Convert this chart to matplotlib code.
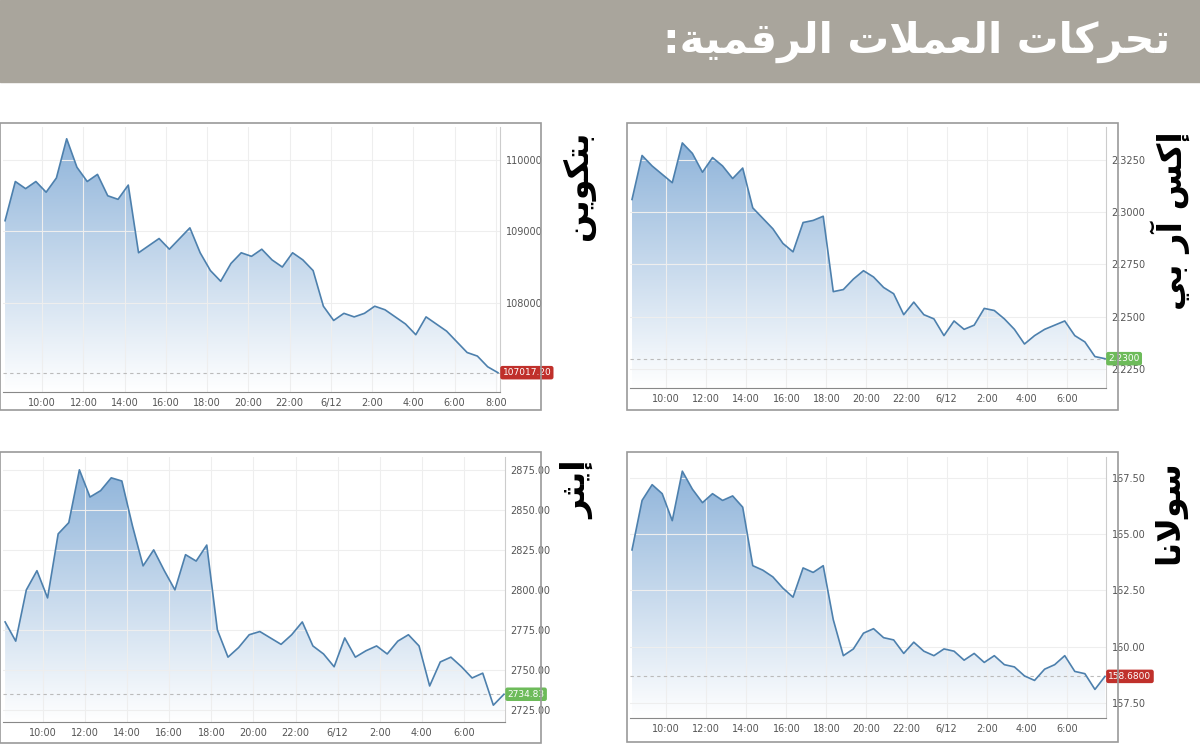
import numpy as np
import matplotlib.pyplot as plt
from matplotlib.patches import Rectangle
from matplotlib.colors import LinearSegmentedColormap

# Arabic text pre-shaped (presentation forms, visual order)
title = ":" + "\ufe94\ufef4\ufee4\ufed7\ufeae\ufedf\ufe8d" + " " + "\ufe95\ufefc\ufee4\ufecc\ufedf\ufe8d" + " " + "\ufe95\ufe8e\ufedb\ufeae\ufea4\ufe97"
name_btc = "\ufee6\ufef3\ufeee\ufedc\ufe98\ufe91"
name_xrp = "\ufef2\ufe91" + " " + "\ufeadآ" + " " + "\ufeb2\ufedb\ufe87"
name_eth = "\ufeae\ufe9c\ufef3\ufe87"
name_sol = "\ufe8e\ufee7\ufefb\ufeee\ufeb3"

tick_pos = [10, 12, 14, 16, 18, 20, 22, 24, 26, 28, 30, 32]
tick_lab = ['10:00', '12:00', '14:00', '16:00', '18:00', '20:00', '22:00', '6/12', '2:00', '4:00', '6:00', '8:00']

btc = [109150, 109700, 109600, 109700, 109550, 109750, 110300, 109900, 109700, 109800, 109500, 109450,
       109650, 108700, 108800, 108900, 108750, 108900, 109050, 108700, 108450, 108300, 108550, 108700,
       108650, 108750, 108600, 108500, 108700, 108600, 108450, 107950, 107750, 107850, 107800, 107850,
       107950, 107900, 107800, 107700, 107550, 107800, 107700, 107600, 107450, 107300, 107250, 107100, 107017.2]
xrp = [2.306, 2.327, 2.322, 2.318, 2.314, 2.333, 2.328, 2.319, 2.326, 2.322, 2.316, 2.321,
       2.302, 2.297, 2.292, 2.285, 2.281, 2.295, 2.296, 2.298, 2.262, 2.263, 2.268, 2.272,
       2.269, 2.264, 2.261, 2.251, 2.257, 2.251, 2.249, 2.241, 2.248, 2.244, 2.246, 2.254,
       2.253, 2.249, 2.244, 2.237, 2.241, 2.244, 2.246, 2.248, 2.241, 2.238, 2.231, 2.230]
eth = [2780, 2768, 2800, 2812, 2795, 2835, 2842, 2875, 2858, 2862, 2870, 2868,
       2840, 2815, 2825, 2812, 2800, 2822, 2818, 2828, 2775, 2758, 2764, 2772,
       2774, 2770, 2766, 2772, 2780, 2765, 2760, 2752, 2770, 2758, 2762, 2765,
       2760, 2768, 2772, 2765, 2740, 2755, 2758, 2752, 2745, 2748, 2728, 2734.83]
sol = [164.3, 166.5, 167.2, 166.8, 165.6, 167.8, 167.0, 166.4, 166.8, 166.5, 166.7, 166.2,
       163.6, 163.4, 163.1, 162.6, 162.2, 163.5, 163.3, 163.6, 161.2, 159.6, 159.9, 160.6,
       160.8, 160.4, 160.3, 159.7, 160.2, 159.8, 159.6, 159.9, 159.8, 159.4, 159.7, 159.3,
       159.6, 159.2, 159.1, 158.7, 158.5, 159.0, 159.2, 159.6, 158.9, 158.8, 158.1, 158.68]

W, H = 1200, 745
fig = plt.figure(figsize=(12, 7.45), dpi=100)
narrow = ['Liberation Sans Narrow', 'DejaVu Sans']
grad_cm = LinearSegmentedColormap.from_list('g', ['#ffffff', '#8fb4da'])


def px(x0, y0, x1, y1):
    return [x0 / W, 1 - y1 / H, (x1 - x0) / W, (y1 - y0) / H]


fig.patches.append(Rectangle((0, 1 - 82 / H), 1, 82 / H, transform=fig.transFigure,
                             color='#a9a59c', zorder=0))
fig.text(1170 / W, 1 - 42 / H, title, ha='right', va='center', color='white',
         fontsize=30, fontweight='bold', family='DejaVu Sans')


def panel(box, axr, t0, t1, vals, ylim, yticks, yfmt, tag, tagc, name, namex, xmax):
    fig.patches.append(Rectangle((box[0] / W, 1 - box[3] / H), (box[2] - box[0]) / W,
                                 (box[3] - box[1]) / H, transform=fig.transFigure,
                                 fill=False, ec='#9a9a9a', lw=1.2))
    ax = fig.add_axes(px(*axr))
    t = np.linspace(t0, t1, len(vals))
    last = vals[-1]
    ax.plot(t, vals, color='#4d80ad', lw=1.2, zorder=3)
    poly = ax.fill_between(t, vals, ylim[0], color='none')
    grad = np.linspace(1, 0, 256).reshape(-1, 1)
    im = ax.imshow(grad, cmap=grad_cm, aspect='auto', extent=[t0, t1, ylim[0], max(vals)],
                   zorder=1, origin='upper')
    im.set_clip_path(poly.get_paths()[0], transform=ax.transData)
    ax.axhline(last, color='#bbbbbb', ls=(0, (3, 3)), lw=0.8, zorder=2)
    ax.set_xticks(tick_pos, tick_lab)
    ax.set_yticks(yticks, [yfmt.format(v) for v in yticks])
    ax.set_xlim(t0 - 0.1, xmax)
    ax.set_ylim(*ylim)
    ax.yaxis.tick_right()
    ax.tick_params(length=0, labelsize=7, colors='#555555', pad=4)
    for lb in ax.get_xticklabels() + ax.get_yticklabels():
        lb.set_family(narrow)
    ax.grid(True, color='#eeeeee', lw=0.8)
    for s in ['top', 'left']:
        ax.spines[s].set_visible(False)
    ax.spines['right'].set_color('#cccccc')
    ax.spines['bottom'].set_color('#888888')
    ax.text(1.005, last, tag, transform=ax.get_yaxis_transform(), ha='left', va='center',
            fontsize=6.5, color='white', family=narrow,
            bbox=dict(boxstyle='round,pad=0.25', fc=tagc, ec='none'), zorder=5, clip_on=False)
    fig.text(namex / W, 1 - ((box[1] + 8) / H), name, rotation=90, ha='center', va='top',
             fontsize=24, fontweight='bold', family='DejaVu Sans')
    return ax


panel((0, 123, 541, 410), (3, 127, 500, 392), 8.2, 32.1, btc, (106746, 110465),
      [108000, 109000, 110000], '{:.0f}', '107017.20', '#c0302b', name_btc, 578, 32.2)
panel((627, 123, 1118, 410), (630, 127, 1106, 388), 8.3, 31.9, xrp, (2.216, 2.3406),
      [2.225, 2.25, 2.275, 2.3, 2.325], '{:.4f}', '2.2300', '#6dbb5a', name_xrp, 1170, 31.95)
panel((0, 452, 541, 743), (3, 457, 505, 722), 8.2, 31.9, eth, (2717.5, 2883),
      [2725, 2750, 2775, 2800, 2825, 2850, 2875], '{:.2f}', '2734.83', '#6dbb5a', name_eth, 578, 31.95)
panel((627, 452, 1118, 742), (630, 457, 1106, 718), 8.3, 31.9, sol, (156.83, 168.43),
      [157.5, 160, 162.5, 165, 167.5], '{:.2f}', '158.6800', '#c0302b', name_sol, 1170, 31.95)

fig.savefig('out.png', dpi=100)
